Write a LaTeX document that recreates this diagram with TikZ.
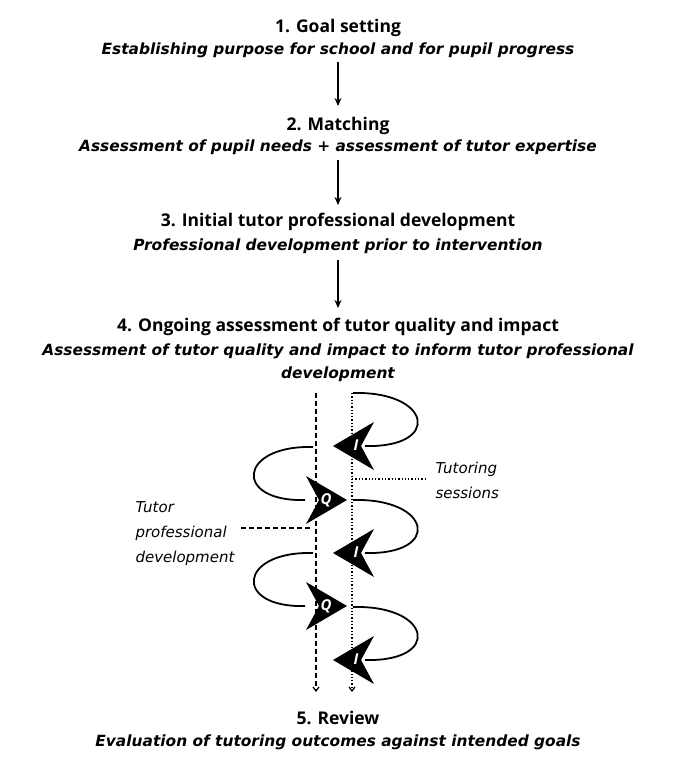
\documentclass[tikz,border=0pt]{standalone}
\usepackage{fontspec}
\setmainfont{Open Sans}
\newfontfamily\subfont{DejaVu Sans}
\usetikzlibrary{arrows.meta}
\begin{document}
\begin{tikzpicture}[x=1pt,y=-1pt,
  title/.style={font=\fontsize{17.5}{20}\selectfont\bfseries},
  sub/.style={font=\subfont\fontsize{15.4}{23}\selectfont\itshape\bfseries, align=center},
  lab/.style={font=\subfont\fontsize{15}{25}\selectfont\itshape, align=left},
  flow/.style={-{Stealth[length=8pt,width=7pt]}, line width=1.3pt},
  loopline/.style={line width=1.8pt},
  lbl/.style={text=white, font=\fontsize{15}{15}\selectfont\bfseries\itshape}]
\useasboundingbox (0,0) rectangle (678,766);
\node[title] (t1) at (338,28) {1. Goal setting};
\node[sub] (s1) at (338,50) {Establishing purpose for school and for pupil progress};
\node[title] (t2) at (338,126) {2. Matching};
\node[sub] (s2) at (338,147) {Assessment of pupil needs + assessment of tutor expertise};
\node[title] (t3) at (338,222) {3. Initial tutor professional development};
\node[sub] (s3) at (338,246) {Professional development prior to intervention};
\node[title] (t4) at (338,327) {4. Ongoing assessment of tutor quality and impact};
\node[sub] (s4) at (338,363) {Assessment of tutor quality and impact to inform tutor professional\\development};
\node[title] (t5) at (338,718) {5. Review};
\node[sub] (s5) at (338,742) {Evaluation of tutoring outcomes against intended goals};
\draw[flow] (338,62) -- (338,106);
\draw[flow] (338,160) -- (338,205);
\draw[flow] (338,260) -- (338,308);
% axes
\coordinate (dtop) at (316,393); \coordinate (dbot) at (316,692);
\coordinate (ptop) at (352,393); \coordinate (pbot) at (352,692);
\draw[dash pattern=on 5pt off 3pt, line width=1.3pt, -{Straight Barb[length=4pt,width=6pt]}] (dtop) -- (dbot);
\draw[dotted, line width=1.3pt, -{Straight Barb[length=4pt,width=6pt]}] (ptop) -- (pbot);
% labels
\node[lab, anchor=west] (ts) at (432,480) {Tutoring\\sessions};
\coordinate (tsl) at (352,479);
\draw[dotted, line width=1.3pt] (tsl) -- (425,479);
\node[lab, anchor=east] (tpd) at (238,534) {Tutor\\professional\\development};
\coordinate (tpdr) at (312,528);
\draw[dash pattern=on 5pt off 3pt, line width=1.3pt] (241,528) -- (tpdr);
% right loops
\foreach \y in {393,500,607}{
  \draw[loopline] (353,\y) .. controls (432,\y-2) and (442,\y+55) .. (365,\y+53);
  \fill (333,\y+53) -- (374,\y+29) -- (361,\y+53) -- (374,\y+77) -- cycle;
  \node[lbl] at (356,\y+52) {I};
}
\foreach \y in {447,553}{
  \draw[loopline] (313,\y) .. controls (238,\y-2) and (233,\y+55) .. (305,\y+53);
  \fill (347,\y+53) -- (306,\y+29) -- (319,\y+53) -- (306,\y+77) -- cycle;
  \node[lbl] at (326,\y+53) {Q};
}
\end{tikzpicture}
\end{document}
